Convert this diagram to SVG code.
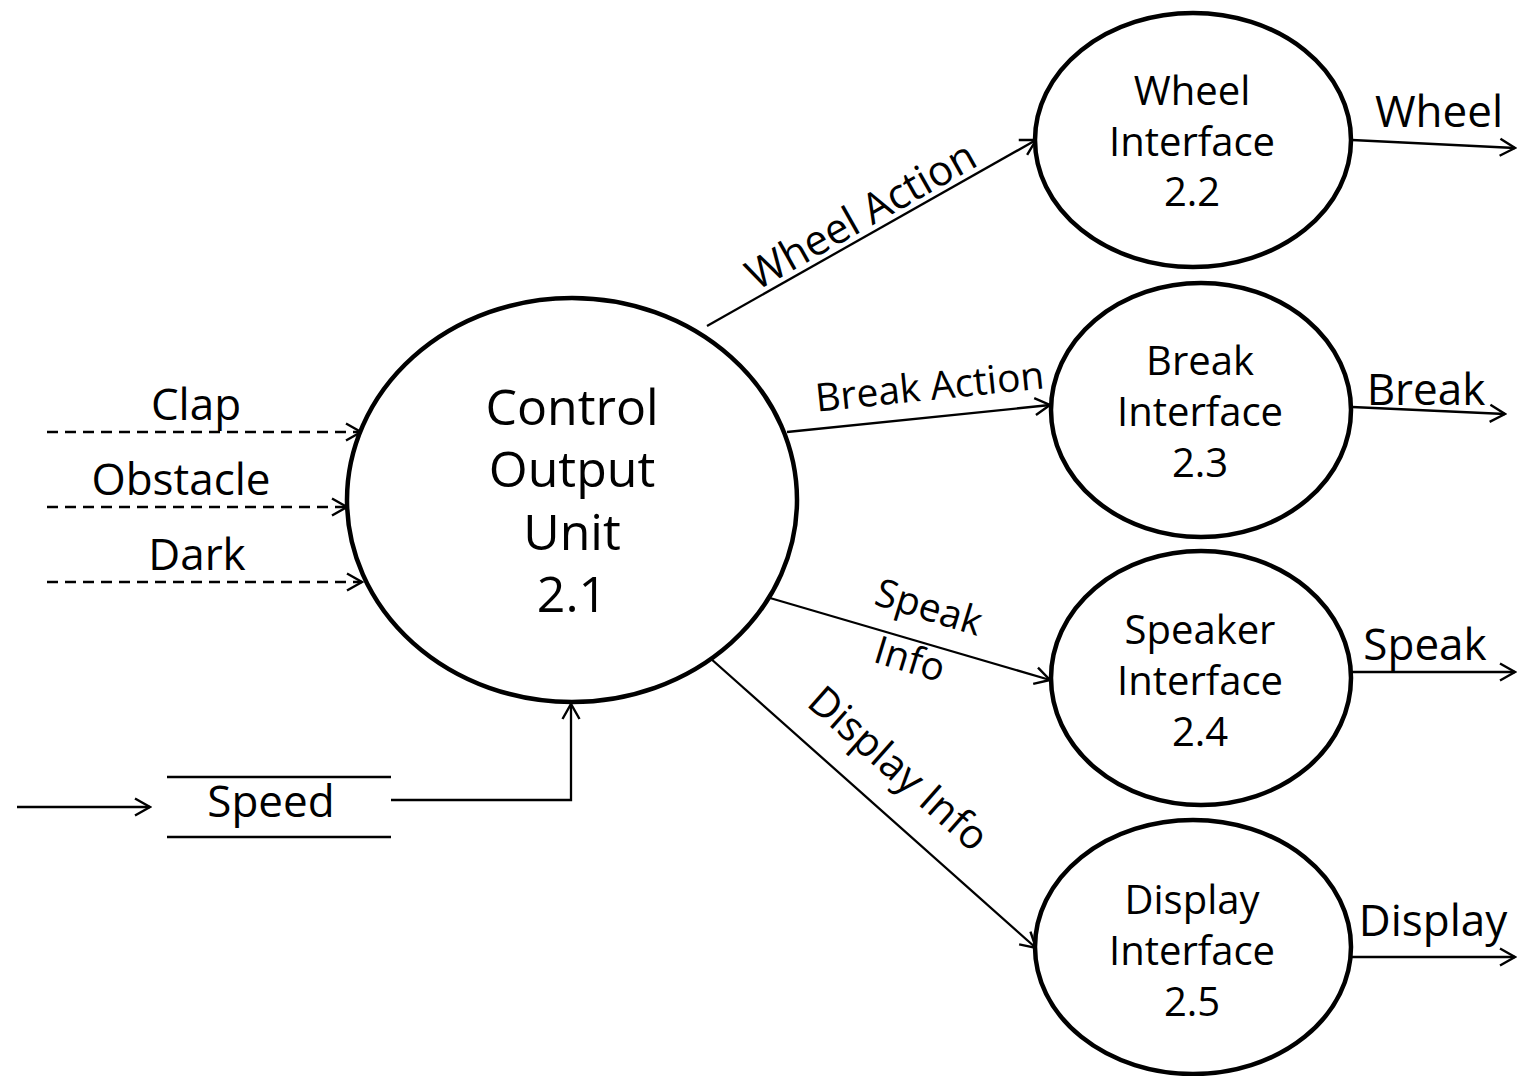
<svg xmlns="http://www.w3.org/2000/svg" width="1518" height="1076" viewBox="0 0 1518 1076">
<style>
text{font-family:"Open Sans","Noto Sans",sans-serif;fill:#000;text-anchor:middle}
.node{fill:#fff;stroke:#000;stroke-width:4.5}
.big{font-size:50px}
.mid{font-size:40px}
.flow{font-size:44px}
.lbl{font-size:39px}
.ln{fill:none;stroke:#000;stroke-width:2.3}
.dash{stroke-dasharray:11,7;stroke-width:2.5}
</style>
<defs>
<marker id="arr" markerUnits="userSpaceOnUse" markerWidth="20" markerHeight="20" viewBox="0 0 20 20" refX="18" refY="10" orient="auto">
<path d="M3,1.5 L18,10 L3,18.5" fill="none" stroke="#000" stroke-width="2.4"/>
</marker>
</defs>
<g id="connectors">
<line class="ln dash" x1="47" y1="432" x2="361" y2="432" marker-end="url(#arr)"/>
<line class="ln dash" x1="47" y1="507" x2="347" y2="507" marker-end="url(#arr)"/>
<line class="ln dash" x1="47" y1="582" x2="362" y2="582" marker-end="url(#arr)"/>
<line class="ln" x1="17" y1="807" x2="150" y2="807" marker-end="url(#arr)"/>
<line class="ln" x1="167" y1="777" x2="391" y2="777"/>
<line class="ln" x1="167" y1="837" x2="391" y2="837"/>
<polyline class="ln" points="391,800 571,800 571,704" marker-end="url(#arr)"/>
<line class="ln" x1="707" y1="326" x2="1036" y2="140" marker-end="url(#arr)"/>
<line class="ln" x1="787" y1="432" x2="1050" y2="405" marker-end="url(#arr)"/>
<line class="ln" x1="770" y1="598" x2="1050" y2="680" marker-end="url(#arr)"/>
<line class="ln" x1="710" y1="658" x2="1036" y2="948" marker-end="url(#arr)"/>
<line class="ln" x1="1352" y1="140" x2="1515" y2="148" marker-end="url(#arr)"/>
<line class="ln" x1="1352" y1="407" x2="1505" y2="414" marker-end="url(#arr)"/>
<line class="ln" x1="1352" y1="672" x2="1515" y2="672" marker-end="url(#arr)"/>
<line class="ln" x1="1352" y1="957" x2="1515" y2="957" marker-end="url(#arr)"/>
<text class="flow" x="196" y="420">Clap</text>
<text class="flow" x="181" y="495">Obstacle</text>
<text class="flow" x="197" y="570">Dark</text>
<text class="flow" x="271" y="817">Speed</text>
<text class="lbl" style="font-size:42px" transform="translate(868,228) rotate(-29.5)" x="0" y="0">Wheel Action</text>
<text class="lbl" transform="translate(931,400) rotate(-5.9)" x="0" y="0">Break Action</text>
<text class="lbl" transform="translate(925,620) rotate(17)" x="0" y="0">Speak</text>
<text class="lbl" transform="translate(906,672) rotate(17)" x="0" y="0">Info</text>
<text class="lbl" style="font-size:41px" transform="translate(897,770) rotate(41.5)" x="0" y="12">Display Info</text>
<text class="flow" x="1439" y="127">Wheel</text>
<text class="flow" x="1426" y="405">Break</text>
<text class="flow" x="1425" y="660">Speak</text>
<text class="flow" x="1433" y="936">Display</text>
</g>
<g id="n21">
<ellipse class="node" cx="572" cy="500" rx="225" ry="202"/>
<text class="big" x="572" y="425">Control</text>
<text class="big" x="572" y="487">Output</text>
<text class="big" x="572" y="550">Unit</text>
<text class="big" x="572" y="612">2.1</text>
</g>
<g id="n22">
<ellipse class="node" cx="1193" cy="140" rx="158" ry="127"/>
<text class="mid" x="1192" y="105">Wheel</text>
<text class="mid" x="1192" y="156">Interface</text>
<text class="mid" x="1192" y="206">2.2</text>
</g>
<g id="n23">
<ellipse class="node" cx="1201" cy="410" rx="150" ry="127"/>
<text class="mid" x="1200" y="375">Break</text>
<text class="mid" x="1200" y="426">Interface</text>
<text class="mid" x="1200" y="477">2.3</text>
</g>
<g id="n24">
<ellipse class="node" cx="1201" cy="678" rx="150" ry="127"/>
<text class="mid" x="1200" y="644">Speaker</text>
<text class="mid" x="1200" y="695">Interface</text>
<text class="mid" x="1200" y="746">2.4</text>
</g>
<g id="n25">
<ellipse class="node" cx="1193" cy="947" rx="158" ry="127"/>
<text class="mid" x="1192" y="914">Display</text>
<text class="mid" x="1192" y="965">Interface</text>
<text class="mid" x="1192" y="1016">2.5</text>
</g>
</svg>
